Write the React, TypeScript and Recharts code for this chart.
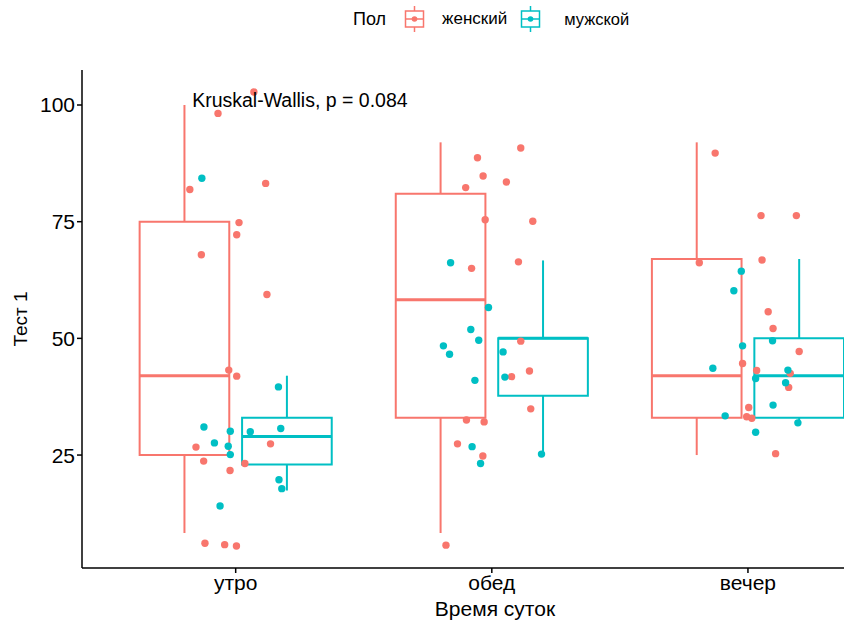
import React from 'react';
import {
  ComposedChart,
  XAxis,
  YAxis,
  Scatter,
  ReferenceArea,
  ReferenceLine,
  ReferenceDot,
} from 'recharts';

const categories = ['утро', 'обед', 'вечер'];
const yTicks = [25, 50, 75, 100];

// box stats per time of day (утро, обед, вечер)
const femaleLow = [8.3, 8.3, 25];
const femaleQ1 = [25, 33, 33];
const femaleMedian = [42, 58.3, 42];
const femaleQ3 = [75, 81, 67];
const femaleHigh = [100, 92, 92];

const maleLow = [17.4, 25.2, 32];
const maleQ1 = [23, 37.7, 33];
const maleMedian = [29, 50, 42];
const maleQ3 = [33, 50, 50];
const maleHigh = [42, 66.7, 67];

// jittered points: [x position, value]
const femalePoints: [number, number][] = [
  [1.071, 102.8], [0.931, 98.2], [0.821, 81.9], [1.117, 83.2], [1.013, 74.8],
  [1.004, 72.2], [0.866, 67.9], [1.122, 59.4], [0.973, 43.2], [1.004, 41.9],
  [0.845, 26.7], [1.136, 27.4], [0.875, 23.7], [1.036, 23.2], [0.978, 21.7],
  [0.88, 6.1], [0.957, 5.8], [1.003, 5.5],
  [2.113, 90.8], [1.944, 88.7], [1.966, 84.8], [2.057, 83.5], [1.898, 82.3],
  [1.974, 75.4], [2.16, 75.1], [1.921, 65.0], [2.104, 66.4], [2.113, 49.4],
  [2.147, 43.0], [2.077, 41.8], [2.152, 34.9], [1.901, 32.5], [1.97, 32.1],
  [1.866, 27.4], [1.965, 24.8], [1.821, 5.7],
  [2.872, 89.7], [3.051, 76.3], [3.189, 76.3], [2.81, 66.2], [3.055, 66.8],
  [3.079, 55.7], [3.098, 52.1], [3.2, 47.2], [2.979, 44.6], [3.034, 43.1],
  [3.165, 42.5], [3.159, 39.5], [3.003, 35.2], [2.995, 33.2], [3.015, 32.9],
  [3.108, 25.3],
];

const malePoints: [number, number][] = [
  [0.868, 84.3], [1.167, 39.6], [0.876, 31.0], [0.979, 30.1], [1.057, 30.0],
  [1.176, 30.7], [0.917, 27.6], [0.971, 26.9], [0.979, 25.1], [1.169, 19.7],
  [1.18, 17.8], [0.939, 14.1],
  [1.839, 66.2], [1.987, 56.6], [1.918, 51.9], [1.949, 49.6], [1.811, 48.4],
  [1.835, 46.6], [2.044, 47.1], [2.051, 41.7], [1.934, 41.0], [1.923, 26.8],
  [1.956, 23.2], [2.194, 25.2],
  [2.974, 64.4], [2.945, 60.2], [3.096, 49.5], [2.979, 48.4], [2.863, 43.6],
  [3.156, 43.2], [3.03, 41.4], [3.147, 40.5], [3.098, 35.7], [2.911, 33.4],
  [3.195, 31.9], [3.03, 29.9],
];

const RED = '#F8766D';
const TEAL = '#00BFC4';
const HALF = 0.175;

const boxes = (
  key: string,
  color: string,
  shift: number,
  low: number[],
  q1: number[],
  med: number[],
  q3: number[],
  high: number[]
) =>
  categories.map((_, i) => {
    const c = i + 1 + shift;
    return (
      <React.Fragment key={key + i}>
        <ReferenceLine
          segment={[{ x: c, y: q3[i] }, { x: c, y: high[i] }]}
          stroke={color}
          strokeWidth={2}
          ifOverflow="visible"
        />
        <ReferenceLine
          segment={[{ x: c, y: low[i] }, { x: c, y: q1[i] }]}
          stroke={color}
          strokeWidth={2}
          ifOverflow="visible"
        />
        <ReferenceArea
          x1={c - HALF}
          x2={c + HALF}
          y1={q1[i]}
          y2={q3[i]}
          fill="none"
          fillOpacity={0}
          stroke={color}
          strokeWidth={2}
          strokeOpacity={1}
          ifOverflow="visible"
        />
        <ReferenceLine
          segment={[{ x: c - HALF, y: med[i] }, { x: c + HALF, y: med[i] }]}
          stroke={color}
          strokeWidth={3}
          ifOverflow="visible"
        />
      </React.Fragment>
    );
  });

const dot = (color: string) => (props: any) =>
  <circle cx={props.cx} cy={props.cy} r={3.7} fill={color} />;

const LegendKey = ({ color }: { color: string }) => (
  <svg width={21} height={26} style={{ display: 'block' }}>
    <line x1={10.5} y1={0} x2={10.5} y2={26} stroke={color} strokeWidth={1.5} />
    <rect x={1.5} y={5} width={18} height={16} fill="#fff" stroke={color} strokeWidth={1.5} />
    <line x1={1.5} y1={13} x2={19.5} y2={13} stroke={color} strokeWidth={1.5} />
    <circle cx={10.5} cy={13} r={2.8} fill={color} />
  </svg>
);

const App: React.FC = () => {
  const female = femalePoints.map(([x, y]) => ({ x, y }));
  const male = malePoints.map(([x, y]) => ({ x, y }));

  return (
    <div
      style={{
        position: 'absolute',
        left: 0,
        top: 0,
        width: 844,
        height: 622,
        overflow: 'hidden',
        background: '#fff',
        fontFamily: '"Liberation Sans", Arial, sans-serif',
      }}
    >
      <div
        style={{
          position: 'absolute',
          top: 6,
          left: 353,
          display: 'flex',
          alignItems: 'center',
          color: '#000',
        }}
      >
        <span style={{ fontSize: 18, marginRight: 18 }}>Пол</span>
        <LegendKey color={RED} />
        <span style={{ fontSize: 17, marginLeft: 17, marginRight: 13 }}>женский</span>
        <LegendKey color={TEAL} />
        <span style={{ fontSize: 16.5, marginLeft: 23 }}>мужской</span>
      </div>

      <ComposedChart width={844} height={622} margin={{ top: 70, right: 0, bottom: 0, left: 0 }}>
        <XAxis
          dataKey="x"
          type="number"
          domain={[0.4, 3.375]}
          allowDataOverflow
          ticks={[1, 2, 3]}
          tickFormatter={(v: number) => categories[v - 1]}
          height={54}
          stroke="#000"
          strokeWidth={1.5}
          tickSize={5}
          tick={{ fill: '#000', fontSize: 21 }}
          label={{
            value: 'Время суток',
            position: 'insideBottom',
            offset: 6,
            dx: 32,
            fill: '#000',
            fontSize: 21,
          }}
        />
        <YAxis
          dataKey="y"
          type="number"
          domain={[0.8, 107.5]}
          allowDataOverflow
          ticks={yTicks}
          width={82}
          stroke="#000"
          strokeWidth={1.5}
          tickSize={5}
          tick={{ fill: '#000', fontSize: 21 }}
          label={{
            value: 'Тест 1',
            angle: -90,
            position: 'insideLeft',
            offset: 20,
            fill: '#000',
            fontSize: 19,
            style: { textAnchor: 'middle' },
          }}
        />
        {boxes('f', RED, -0.2, femaleLow, femaleQ1, femaleMedian, femaleQ3, femaleHigh)}
        {boxes('m', TEAL, 0.2, maleLow, maleQ1, maleMedian, maleQ3, maleHigh)}
        <Scatter data={female} dataKey="y" shape={dot(RED)} isAnimationActive={false} />
        <Scatter data={male} dataKey="y" shape={dot(TEAL)} isAnimationActive={false} />
        <ReferenceDot
          x={0.83}
          y={101}
          r={0}
          fill="none"
          stroke="none"
          label={{ value: 'Kruskal-Wallis, p = 0.084', position: 'right', offset: 0, fill: '#000', fontSize: 19.5 }}
        />
      </ComposedChart>
    </div>
  );
};

export default App;
